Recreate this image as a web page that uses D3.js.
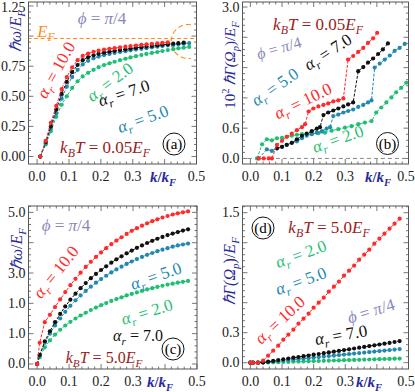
<!DOCTYPE html>
<html>
<head>
<meta charset="utf-8">
<script src="https://cdn.jsdelivr.net/npm/d3@7"></script>
<style>
  body { margin: 0; background: #fff; }
  text { font-family: "Liberation Serif", "Times New Roman", serif; }
</style>
</head>
<body>
<script>
const W = 415, H = 392;

// colours of the four alpha_r series
const colR10 = "#ff2a2a", colR7 = "#111111", colR5 = "#2188b0", colR2 = "#1fbf73";
const colAxis = "#2a2a9a", colTemp = "#9b1c1c", colPhi = "#8a87bb", colEF = "#ff8c1a";

// x ticks shared by all panels (0.4 is taken by the k/kF label)
const kTicks = [0, 0.1, 0.2, 0.3, 0.5];
const kTickLabels = ["0.0", "0.1", "0.2", "0.3", "0.5"];

// ---- panel (a): hbar omega / E_F, kBT = 0.05 EF
const kA = [0.01, 0.027, 0.043, 0.06, 0.077, 0.093, 0.11, 0.127, 0.143, 0.16, 0.177, 0.193, 0.21, 0.227, 0.243,
  0.26, 0.277, 0.293, 0.31, 0.327, 0.343, 0.36, 0.377, 0.393, 0.41, 0.427, 0.443, 0.46, 0.477];
const wA10 = [0.0, 0.13, 0.28, 0.42, 0.56, 0.66, 0.74, 0.80, 0.835, 0.855, 0.87, 0.88, 0.888, 0.895, 0.90,
  0.906, 0.912, 0.917, 0.922, 0.927, 0.932, 0.936, 0.94, 0.944, 0.948];
const wA7 = [0.0, 0.12, 0.25, 0.39, 0.52, 0.62, 0.70, 0.76, 0.80, 0.825, 0.84, 0.853, 0.862, 0.87, 0.877,
  0.884, 0.89, 0.896, 0.902, 0.908, 0.913, 0.918, 0.923, 0.928, 0.932, 0.937, 0.941, 0.945];
const wA5 = [0.0, 0.11, 0.23, 0.36, 0.48, 0.58, 0.66, 0.72, 0.765, 0.795, 0.815, 0.83, 0.842, 0.852, 0.86,
  0.868, 0.875, 0.882, 0.888, 0.894, 0.90, 0.906, 0.912, 0.917, 0.922, 0.927, 0.932, 0.937, 0.942];
const wA2 = [0.0, 0.10, 0.21, 0.33, 0.43, 0.50, 0.57, 0.625, 0.665, 0.695, 0.72, 0.742, 0.76, 0.774, 0.787,
  0.80, 0.812, 0.823, 0.833, 0.843, 0.852, 0.86, 0.868, 0.876, 0.884, 0.891, 0.898, 0.904, 0.91];
const yTicksA = [0, 0.25, 0.5, 0.75, 1.25];
const yLabelsA = ["0.00", "0.25", "0.50", "0.75", "1.25"];
const fermiLevel = 0.98;

// ---- panel (b): 10^2 hbar Gamma / E_F, kBT = 0.05 EF
const kB10 = [0.026, 0.042, 0.058, 0.068, 0.084, 0.100, 0.115, 0.131, 0.147, 0.163, 0.173, 0.184, 0.199,
  0.215, 0.231, 0.246, 0.262, 0.278, 0.294, 0.309, 0.325, 0.341, 0.357, 0.372, 0.388, 0.401];
const gB10 = [0, 0, 0, 0, 0.27, 0.35, 0.43, 0.49, 0.56, 0.62, 0.68, 0.93, 0.99,
  1.03, 1.06, 1.09, 1.13, 1.15, 1.19, 1.96, 2.03, 2.11, 2.19, 2.29, 2.38, 2.49];
const kB7 = [0.084, 0.100, 0.115, 0.131, 0.147, 0.163, 0.178, 0.194, 0.210, 0.220, 0.231, 0.246,
  0.262, 0.278, 0.294, 0.309, 0.325, 0.341, 0.357, 0.372, 0.388, 0.404, 0.419, 0.435];
const gB7 = [0.2, 0.23, 0.27, 0.31, 0.38, 0.45, 0.49, 0.54, 0.59, 0.62, 0.86, 0.91,
  0.95, 0.99, 1.03, 1.07, 1.11, 1.73, 1.81, 1.90, 1.98, 2.07, 2.16, 2.28];
const kB5 = [0.026, 0.052, 0.068, 0.084, 0.100, 0.115, 0.131, 0.147, 0.163, 0.178, 0.194, 0.210, 0.226,
  0.241, 0.252, 0.262, 0.278, 0.294, 0.309, 0.325, 0.341, 0.357, 0.372, 0.383, 0.393, 0.409, 0.425,
  0.441, 0.456, 0.472, 0.488];
const gB5 = [0, 0.18, 0.15, 0.2, 0.23, 0.27, 0.31, 0.34, 0.40, 0.45, 0.48, 0.51, 0.54,
  0.59, 0.62, 0.84, 0.87, 0.91, 0.94, 0.97, 1.02, 1.06, 1.11, 1.15, 1.80, 1.88, 1.96,
  2.04, 2.13, 2.19, 2.27];
const kB2 = [0.021, 0.037, 0.052, 0.068, 0.084, 0.100, 0.115, 0.131, 0.147, 0.163, 0.178, 0.194, 0.215,
  0.236, 0.257, 0.278, 0.299, 0.320, 0.341, 0.362, 0.383, 0.398, 0.414, 0.430, 0.446, 0.461, 0.477, 0.493];
const gB2 = [0, 0.28, 0.38, 0.36, 0.40, 0.41, 0.43, 0.45, 0.47, 0.48, 0.48, 0.49, 0.50,
  0.51, 0.55, 0.58, 0.61, 0.64, 0.68, 0.71, 0.74, 0.91, 1.01, 1.11, 1.21, 1.31, 1.40, 1.50];
const yTicksB = [0, 0.6, 3.0];
const yLabelsB = ["0.0", "0.6", "3.0"];

// ---- panels (c) and (d): kBT = 5.0 EF, common k grid
const kCD = [0, 0.008, 0.024, 0.04, 0.056, 0.072, 0.088, 0.104, 0.12, 0.136, 0.152, 0.168, 0.184, 0.2, 0.216,
  0.232, 0.248, 0.264, 0.28, 0.296, 0.312, 0.328, 0.344, 0.36, 0.376, 0.392, 0.408, 0.424, 0.44, 0.456, 0.472];
const wC10 = [0, 0.7, 1.38, 1.62, 1.88, 2.13, 2.37, 2.6, 2.81, 3.01, 3.2, 3.37, 3.53, 3.68, 3.82,
  3.95, 4.07, 4.18, 4.29, 4.39, 4.48, 4.56, 4.64, 4.71, 4.77, 4.83, 4.88, 4.93, 4.97, 5.0, 5.03];
const wC7 = [0, 0.3, 0.75, 1.08, 1.38, 1.65, 1.9, 2.12, 2.32, 2.5, 2.67, 2.83, 2.97, 3.1, 3.22,
  3.34, 3.45, 3.55, 3.65, 3.74, 3.83, 3.91, 3.99, 4.06, 4.13, 4.19, 4.25, 4.3, 4.35, 4.4, 4.44];
const wC5 = [0, 0.28, 0.7, 1.0, 1.27, 1.5, 1.72, 1.92, 2.1, 2.26, 2.41, 2.55, 2.68, 2.8, 2.91,
  3.02, 3.12, 3.21, 3.3, 3.38, 3.46, 3.53, 3.6, 3.66, 3.72, 3.77, 3.82, 3.87, 3.91, 3.94, 3.97];
const wC2 = [0, 0.22, 0.55, 0.78, 0.97, 1.13, 1.27, 1.39, 1.5, 1.6, 1.69, 1.78, 1.86, 1.94, 2.01,
  2.08, 2.14, 2.2, 2.26, 2.31, 2.36, 2.41, 2.46, 2.5, 2.54, 2.58, 2.62, 2.65, 2.68, 2.71, 2.74];
const yTicksC = [0, 1, 2, 3, 5];
const yLabelsC = ["0.0", "1.0", "1.0", "3.0", "5.0"];

const gD10 = [0, 0, 0, 0.02, 0.07, 0.12, 0.17, 0.23, 0.28, 0.33, 0.39, 0.44, 0.49, 0.55, 0.6,
  0.65, 0.71, 0.76, 0.81, 0.87, 0.92, 0.97, 1.03, 1.08, 1.13, 1.19, 1.24, 1.29, 1.34, 1.39, 1.44];
const gD7 = [0, 0, 0, 0.003, 0.01, 0.018, 0.026, 0.034, 0.042, 0.05, 0.057, 0.065, 0.072, 0.08, 0.087,
  0.095, 0.103, 0.11, 0.118, 0.126, 0.134, 0.142, 0.15, 0.158, 0.166, 0.174, 0.182, 0.19, 0.198, 0.207, 0.216];
const gD5 = [0, 0, 0, 0.002, 0.006, 0.011, 0.016, 0.021, 0.026, 0.031, 0.036, 0.041, 0.046, 0.051, 0.056,
  0.061, 0.066, 0.071, 0.076, 0.081, 0.086, 0.091, 0.096, 0.101, 0.106, 0.111, 0.116, 0.121, 0.126, 0.131, 0.136];
const gD2 = [0, 0, 0, 0.001, 0.002, 0.004, 0.005, 0.007, 0.008, 0.01, 0.011, 0.013, 0.014, 0.016, 0.017,
  0.019, 0.02, 0.022, 0.023, 0.025, 0.026, 0.028, 0.029, 0.031, 0.032, 0.034, 0.035, 0.037, 0.038, 0.04, 0.041];
const yTicksD = [0, 0.3, 1.5];
const yLabelsD = ["0.0", "0.3", "1.5"];

const svg = d3.select("body").append("svg")
  .attr("width", W)
  .attr("height", H);

// text made of pieces: italic, subscript, superscript, bold
function mathText(g, x, y, parts, opt) {
  const size = opt.size || 16;
  const t = g.append("text")
    .attr("transform", `translate(${x},${y}) rotate(${opt.rot || 0}) translate(0,${size * 0.33})`)
    .attr("text-anchor", opt.anchor || "middle")
    .attr("font-size", size)
    .attr("fill", opt.color || "#000");
  let shift = 0;
  parts.forEach(pt => {
    const s = t.append("tspan").text(pt.t);
    if (pt.i) s.attr("font-style", "italic");
    if (pt.b) s.attr("font-weight", "bold");
    const want = pt.sub ? size * 0.25 : pt.sup ? -size * 0.38 : 0;
    if (want !== shift) { s.attr("dy", want - shift); shift = want; }
    if (pt.sub || pt.sup) s.attr("font-size", size * 0.7);
  });
  return t;
}

const alpha = v => [{ t: "α", i: 1 }, { t: "r", i: 1, sub: 1 }, { t: " = " + v }];
const phiTxt = [{ t: "ϕ", i: 1 }, { t: " = " }, { t: "π", i: 1 }, { t: "/4" }];
const tempTxt = v => [{ t: "k", i: 1 }, { t: "B", i: 1, sub: 1 }, { t: "T", i: 1 }, { t: " = " + v },
  { t: "E", i: 1 }, { t: "F", i: 1, sub: 1 }];
const kLabel = [{ t: "k", i: 1, b: 1 }, { t: "/", b: 1 }, { t: "k", i: 1, b: 1 }, { t: "F", i: 1, b: 1, sub: 1 }];

function drawPanel(p) {
  const g = svg.append("g");
  const x = d3.scaleLinear().domain(p.xDom).range([p.left, p.right]);
  const y = d3.scaleLinear().domain(p.yDom).range([p.bottom, p.top]);

  const clipId = "clip" + p.id;
  g.append("clipPath").attr("id", clipId)
    .append("rect")
    .attr("x", p.left).attr("y", p.top)
    .attr("width", p.right - p.left).attr("height", p.bottom - p.top);

  // tick marks on all four sides
  const ticks = g.append("g").attr("stroke", "#555").attr("stroke-width", 0.8);
  d3.range(0, 0.501, p.xMinor).forEach(v => {
    const major = Math.abs(v * 10 - Math.round(v * 10)) < 1e-6;
    const len = major ? 5 : 2.5;
    ticks.append("line").attr("x1", x(v)).attr("x2", x(v)).attr("y1", p.bottom).attr("y2", p.bottom - len);
    ticks.append("line").attr("x1", x(v)).attr("x2", x(v)).attr("y1", p.top).attr("y2", p.top + len);
  });
  d3.range(0, p.yDom[1] + 1e-9, p.yMinor).forEach(v => {
    const major = Math.abs(v / p.yMajor - Math.round(v / p.yMajor)) < 1e-6;
    const len = major ? 5 : 2.5;
    ticks.append("line").attr("y1", y(v)).attr("y2", y(v)).attr("x1", p.left).attr("x2", p.left + len);
    ticks.append("line").attr("y1", y(v)).attr("y2", y(v)).attr("x1", p.right).attr("x2", p.right - len);
  });

  // tick labels
  kTicks.forEach((v, i) => {
    g.append("text").attr("x", Math.min(x(v), W - 9)).attr("y", p.bottom + 17)
      .attr("text-anchor", "middle").attr("font-size", 14).attr("fill", "#222")
      .text(kTickLabels[i]);
  });
  p.yTicks.forEach((v, i) => {
    g.append("text").attr("x", p.left - 3).attr("y", Math.max(y(v) + 4.5, 12))
      .attr("text-anchor", "end").attr("font-size", 14).attr("fill", "#222")
      .text(p.yLabels[i]);
  });

  const plot = g.append("g").attr("clip-path", `url(#${clipId})`);
  if (p.before) p.before(plot, x, y);

  const line = d3.line().x(d => x(d[0])).y(d => y(d[1]));
  p.series.forEach(s => {
    const pts = s.v.map((v, i) => [s.k[i], v]);
    plot.append("path").datum(pts)
      .attr("d", line)
      .attr("fill", "none")
      .attr("stroke", s.color)
      .attr("stroke-width", 1)
      .attr("stroke-dasharray", "3,1.5");
    plot.selectAll(null).data(pts).enter()
      .append("circle")
      .attr("cx", d => x(d[0]))
      .attr("cy", d => y(d[1]))
      .attr("r", 2.1)
      .attr("fill", s.color);
  });

  // frame
  g.append("rect")
    .attr("x", p.left).attr("y", p.top)
    .attr("width", p.right - p.left).attr("height", p.bottom - p.top)
    .attr("fill", "none").attr("stroke", "#555").attr("stroke-width", 1);

  // axis labels
  mathText(g, p.kLabelX, p.bottom + 13, kLabel, { size: 15, color: colAxis });
  mathText(g, p.yLabelX, p.yLabelY, p.yLabel, { size: p.yLabelSize || 16, color: colAxis, rot: -90 });

  // panel letter in a circle
  g.append("circle").attr("cx", p.tag[0]).attr("cy", p.tag[1]).attr("r", 11)
    .attr("fill", "none").attr("stroke", "#111").attr("stroke-width", 1);
  g.append("text").attr("x", p.tag[0]).attr("y", p.tag[1] + 5)
    .attr("text-anchor", "middle").attr("font-size", 15).text(p.tagText);

  p.notes.forEach(n => mathText(g, n.x, n.y, n.parts, { size: n.size || 16, color: n.color, rot: n.rot || 0 }));
}

const hw = [{ t: "ℏω", i: 1 }, { t: "/" }, { t: "E", i: 1 }, { t: "F", i: 1, sub: 1 }];
const hGamma = [{ t: "ℏΓ(Ω", i: 1 }, { t: "p", i: 1, sub: 1 }, { t: ")/" }, { t: "E", i: 1 }, { t: "F", i: 1, sub: 1 }];

// (a)
drawPanel({
  id: "a", left: 28.5, right: 196.5, top: 2, bottom: 164,
  xDom: [-0.027, 0.5], yDom: [-0.062, 1.283], xMinor: 0.02, yMinor: 0.05, yMajor: 0.25,
  yTicks: yTicksA, yLabels: yLabelsA,
  yLabel: hw, yLabelX: 16, yLabelY: 31, kLabelX: 163,
  tag: [174, 144], tagText: "(a)",
  before: (plot, x, y) => {
    plot.append("line")
      .attr("x1", x(-0.03)).attr("x2", x(0.5))
      .attr("y1", y(fermiLevel)).attr("y2", y(fermiLevel))
      .attr("stroke", colEF).attr("stroke-width", 1.1).attr("stroke-dasharray", "4,2.5");
    const arc = d3.path();
    arc.arc(x(0.474), y(fermiLevel) + 3, 17, -Math.PI * 0.45, Math.PI * 0.45, true);
    plot.append("path").attr("d", arc.toString())
      .attr("fill", "none").attr("stroke", colEF).attr("stroke-width", 1.1).attr("stroke-dasharray", "5,3");
  },
  series: [
    { k: kA, v: wA2, color: colR2 },
    { k: kA, v: wA5, color: colR5 },
    { k: kA, v: wA7, color: colR7 },
    { k: kA, v: wA10, color: colR10 }
  ],
  notes: [
    { x: 102, y: 18, parts: phiTxt, color: colPhi, size: 17 },
    { x: 46, y: 31, parts: [{ t: "E", i: 1 }, { t: "F", i: 1, sub: 1 }], color: colEF, size: 17 },
    { x: 56, y: 70, parts: alpha("10.0"), color: colR10, rot: -61, size: 17 },
    { x: 110, y: 82, parts: alpha("2.0"), color: colR2, rot: -37, size: 17 },
    { x: 124, y: 93, parts: alpha("7.0"), color: colR7, rot: -18, size: 17 },
    { x: 143, y: 119, parts: alpha("5.0"), color: colR5, rot: -20, size: 17 },
    { x: 105, y: 147, parts: tempTxt("0.05"), color: colTemp, size: 17 }
  ]
});

// (b)
drawPanel({
  id: "b", left: 242.5, right: 408.5, top: 2, bottom: 164,
  xDom: [-0.025, 0.5], yDom: [-0.11, 3.1], xMinor: 0.02, yMinor: 0.12, yMajor: 0.6,
  yTicks: yTicksB, yLabels: yLabelsB, yLabelSize: 15,
  yLabel: [{ t: "10" }, { t: "2", sup: 1 }, { t: " " }].concat(hGamma), yLabelX: 230, yLabelY: 65, kLabelX: 378,
  tag: [387.5, 143.5], tagText: "(b)",
  before: (plot, x, y) => {
    plot.append("line")
      .attr("x1", x(-0.03)).attr("x2", x(0.5))
      .attr("y1", y(0)).attr("y2", y(0))
      .attr("stroke", "#888").attr("stroke-width", 1).attr("stroke-dasharray", "4,3");
  },
  series: [
    { k: kB2, v: gB2, color: colR2 },
    { k: kB5, v: gB5, color: colR5 },
    { k: kB7, v: gB7, color: colR7 },
    { k: kB10, v: gB10, color: colR10 }
  ],
  notes: [
    { x: 318, y: 24, parts: tempTxt("0.05"), color: colTemp, size: 17 },
    { x: 279, y: 48, parts: phiTxt, color: colPhi, rot: -16 },
    { x: 328, y: 52, parts: alpha("7.0"), color: colR7, rot: -33, size: 17 },
    { x: 275, y: 87, parts: alpha("5.0"), color: colR5, rot: -35, size: 17 },
    { x: 303, y: 101, parts: alpha("10.0"), color: colR10, rot: -26, size: 17 },
    { x: 338, y: 139, parts: alpha("2.0"), color: colR2, rot: -19, size: 17 }
  ]
});

// (c)
drawPanel({
  id: "c", left: 28.5, right: 197, top: 206, bottom: 369,
  xDom: [-0.027, 0.5], yDom: [-0.165, 5.21], xMinor: 0.02, yMinor: 0.2, yMajor: 1,
  yTicks: yTicksC, yLabels: yLabelsC,
  yLabel: hw, yLabelX: 17, yLabelY: 249, kLabelX: 160,
  tag: [173, 349], tagText: "(c)",
  series: [
    { k: kCD, v: wC2, color: colR2 },
    { k: kCD, v: wC5, color: colR5 },
    { k: kCD, v: wC7, color: colR7 },
    { k: kCD, v: wC10, color: colR10 }
  ],
  notes: [
    { x: 66, y: 225, parts: phiTxt, color: colPhi, size: 17 },
    { x: 56, y: 272, parts: alpha("10.0"), color: colR10, rot: -51, size: 17 },
    { x: 156, y: 276, parts: alpha("5.0"), color: colR5, rot: -19, size: 17 },
    { x: 147, y: 312, parts: alpha("2.0"), color: colR2, rot: -17, size: 17 },
    { x: 138, y: 336, parts: alpha("7.0"), color: colR7, size: 16 },
    { x: 104, y: 358, parts: tempTxt("5.0"), color: colTemp, size: 16 }
  ]
});

// (d)
drawPanel({
  id: "d", left: 242.5, right: 408.5, top: 206, bottom: 369,
  xDom: [-0.025, 0.5], yDom: [-0.063, 1.567], xMinor: 0.02, yMinor: 0.06, yMajor: 0.3,
  yTicks: yTicksD, yLabels: yLabelsD,
  yLabel: hGamma, yLabelX: 230, yLabelY: 271, kLabelX: 369,
  tag: [263, 228], tagText: "(d)",
  series: [
    { k: kCD, v: gD2, color: colR2 },
    { k: kCD, v: gD5, color: colR5 },
    { k: kCD, v: gD7, color: colR7 },
    { k: kCD, v: gD10, color: colR10 }
  ],
  notes: [
    { x: 329, y: 227, parts: tempTxt("5.0"), color: colTemp, size: 17 },
    { x: 301, y: 254, parts: alpha("2.0"), color: colR2, rot: -20, size: 17 },
    { x: 301, y: 281, parts: alpha("5.0"), color: colR5, rot: -20, size: 17 },
    { x: 280, y: 320, parts: alpha("10.0"), color: colR10, rot: -43, size: 17 },
    { x: 371, y: 311, parts: phiTxt, color: colPhi, rot: -17, size: 17 },
    { x: 341, y: 335, parts: alpha("7.0"), color: colR7, rot: -10, size: 17 }
  ]
});
</script>
</body>
</html>
